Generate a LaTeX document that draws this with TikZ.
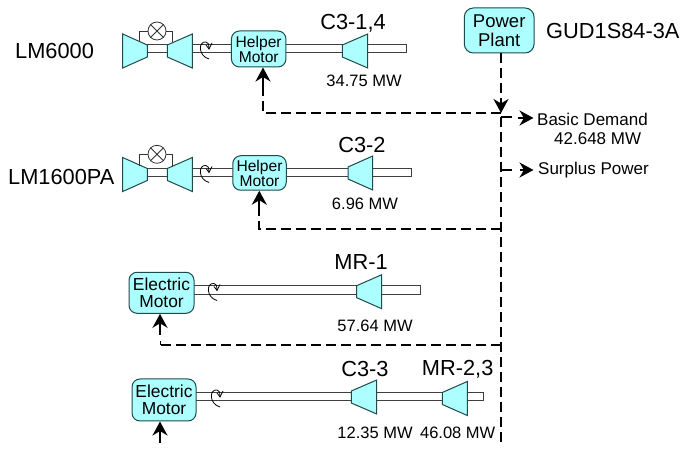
\documentclass[tikz,border=0pt]{standalone}
\usepackage{fontspec}
\setmainfont{Liberation Sans}
\usetikzlibrary{arrows.meta}
\definecolor{machine}{HTML}{ADFFFF}
\definecolor{edgec}{HTML}{1F4A4A}
\newcommand{\fs}[1]{\fontsize{#1pt}{#1pt}\selectfont}
\tikzset{
  x=1pt,y=-1pt,
  machinebox/.style={draw=edgec,fill=machine,line width=1pt,rounded corners=8pt,inner sep=0pt,align=center,text=black},
  blade/.style={draw=edgec,fill=machine,line width=1pt,line join=miter},
  shaft/.style={draw=black!75,fill=white,line width=1pt},
  thin line/.style={draw=black!80,line width=0.8pt},
  feed/.style={draw=black,line width=2pt,dash pattern=on 10pt off 5pt},
  tip/.style={draw=black,line width=2pt,-{Stealth[length=14pt,width=15pt,inset=4.5pt]}},
  big/.style={inner sep=0pt,text=black,font=\fs{21.8}},
  small/.style={inner sep=0pt,text=black,font=\fs{16.5}},
  lbl/.style={inner sep=0pt,text=black,font=\fs{17}}
}
\newcommand{\rotmark}[2]{%
  \draw[black,line width=0.8pt] (#1+8,#2+9) .. controls (#1-3,#2+6) and (#1-3,#2-9) .. (#1+5,#2-8) .. controls (#1+7,#2-8) and (#1+8,#2-6) .. (#1+8,#2-1);
  \draw[black,line width=0.8pt] (#1+5,#2-5) -- (#1+8,#2-1) -- (#1+11,#2-7);}
\newcommand{\comp}[6]{% x1 x2 ymid-left half, right half
  \draw[blade] (#1,#3-#4) -- (#2,#3-#5) -- (#2,#3+#5) -- (#1,#3+#4) -- cycle;}
\begin{document}
\begin{tikzpicture}
\useasboundingbox (0,0) rectangle (681,449);
% shafts
\draw[shaft] (147,45) rectangle (406,53);
\draw[shaft] (147,168.5) rectangle (411,177);
\draw[shaft] (190,286) rectangle (420,295);
\draw[shaft] (192,392.5) rectangle (483,401);
% row 1
\comp{122.7}{147.3}{51}{17}{6}{}
\comp{192.3}{167.3}{51}{17}{6}{}
\comp{367.7}{342.3}{51}{17}{6}{}
\draw[thin line] (139.3,42) |- (148,31);
\draw[thin line] (172,42) |- (166,31);
\node[circle,draw=black!80,fill=white,line width=0.8pt,minimum size=18pt,inner sep=0pt] (v1) at (157,31) {};
\draw[thin line] (v1.north west) -- (v1.south east) (v1.north east) -- (v1.south west);
\rotmark{201}{50}
% row 2
\comp{122.7}{147.3}{174.5}{17}{6}{}
\comp{192.3}{167.3}{174.5}{17}{6}{}
\comp{372.7}{348}{173}{17}{6}{}
\draw[thin line] (139.3,166) |- (148,154.3);
\draw[thin line] (172,166) |- (166,154.3);
\node[circle,draw=black!80,fill=white,line width=0.8pt,minimum size=18pt,inner sep=0pt] (v2) at (157,154.3) {};
\draw[thin line] (v2.north west) -- (v2.south east) (v2.north east) -- (v2.south west);
\rotmark{201}{173.5}
% row 3
\comp{381.7}{356.7}{291.7}{17}{6}{}
\rotmark{209}{291.5}
% row 4
\comp{376.7}{351.3}{397}{17}{6}{}
\comp{467.3}{442.3}{398.5}{17}{6}{}
\rotmark{212}{398}
% boxes
\node[machinebox,font=\fs{15.6},minimum width=54.5pt,minimum height=36pt] (h1) at (258.7,49) {Helper\\[-0.6pt]Motor};
\node[machinebox,font=\fs{15.6},minimum width=53.5pt,minimum height=34.5pt] (h2) at (259.5,173) {Helper\\[-0.6pt]Motor};
\node[machinebox,font=\fs{17.4},minimum width=65pt,minimum height=41pt] (e1) at (161.5,292.8) {Electric\\[-0.8pt]Motor};
\node[machinebox,font=\fs{17.4},minimum width=64pt,minimum height=42pt] (e2) at (164,400) {Electric\\[-0.8pt]Motor};
\node[machinebox,font=\fs{18.5},minimum width=69.7pt,minimum height=45pt,rounded corners=9pt] (pp) at (499.2,30.5) {Power\\[0.5pt]Plant};
% texts
\node[big,anchor=west] (t1) at (15,51) {LM6000};
\node[big,anchor=west] (t2) at (8,177) {LM1600PA};
\node[big] (t3) at (353,23) {C3-1,4};
\node[big] (t4) at (362,145) {C3-2};
\node[big] (t5) at (361,262) {MR-1};
\node[big] (t6) at (365,369) {C3-3};
\node[big] (t7) at (457.7,369) {MR-2,3};
\node[big,anchor=west] (t8) at (546,31) {GUD1S84-3A};
\node[small] (m1) at (364,81) {34.75 MW};
\node[small] (m2) at (365,204) {6.96 MW};
\node[small] (m3) at (375,326) {57.64 MW};
\node[small] (m4) at (375,433) {12.35 MW};
\node[small] (m5) at (457.7,433) {46.08 MW};
\node[lbl,anchor=west] (bd) at (537,119) {Basic Demand};
\node[lbl,anchor=west] (bv) at (554,139) {42.648 MW};
\node[lbl,anchor=west] (sp) at (538,170) {Surplus Power};
% connector junctions
\coordinate (j0) at (501,113);
\coordinate (j1) at (501,117);
\coordinate (j2) at (501,170);
\coordinate (j3) at (501,229.3);
\coordinate (j4) at (501,344.7);
\coordinate (jend) at (501,446);
\coordinate (c1) at (263,113);
\coordinate (c2) at (259.3,229.3);
\coordinate (c3) at (160,344.7);
\coordinate (c3b) at (160,335);
\coordinate (c3d) at (160,341);
\coordinate (c4) at (160,443);
\coordinate (a1) at (263,88);
\coordinate (a2) at (259.3,212);
\coordinate (s1) at (518,118);
\coordinate (s2) at (520,170);
\coordinate (s1e) at (533.5,118);
\coordinate (s2e) at (533.5,170);
% feeders
\draw[feed] (pp.south -| j0) -- (j0);
\draw[tip] (501,98) -- (j0);
\draw[feed] (j0) -- (c1) -- (a1);
\draw[tip] (a1) -- (h1.south -| a1);
\draw[feed] (j3) -- (c2) -- (a2);
\draw[tip] (a2) -- (h2.south -| a2);
\draw[feed] (j4) -- (c3);
\draw[black,line width=1pt] (c3) -- (c3d);
\draw[tip] (c3b) -- (e1.south -| c3b);
\draw[tip] (c4) -- (e2.south -| c4);
\draw[feed] (j1) -- (jend);
\draw[black,line width=2pt] (j1) -- (512,117);
\draw[black,line width=2pt] (j2) -- (512,170);
\draw[tip] (s1) -- (s1e);
\draw[tip] (s2) -- (s2e);
\end{tikzpicture}
\end{document}
